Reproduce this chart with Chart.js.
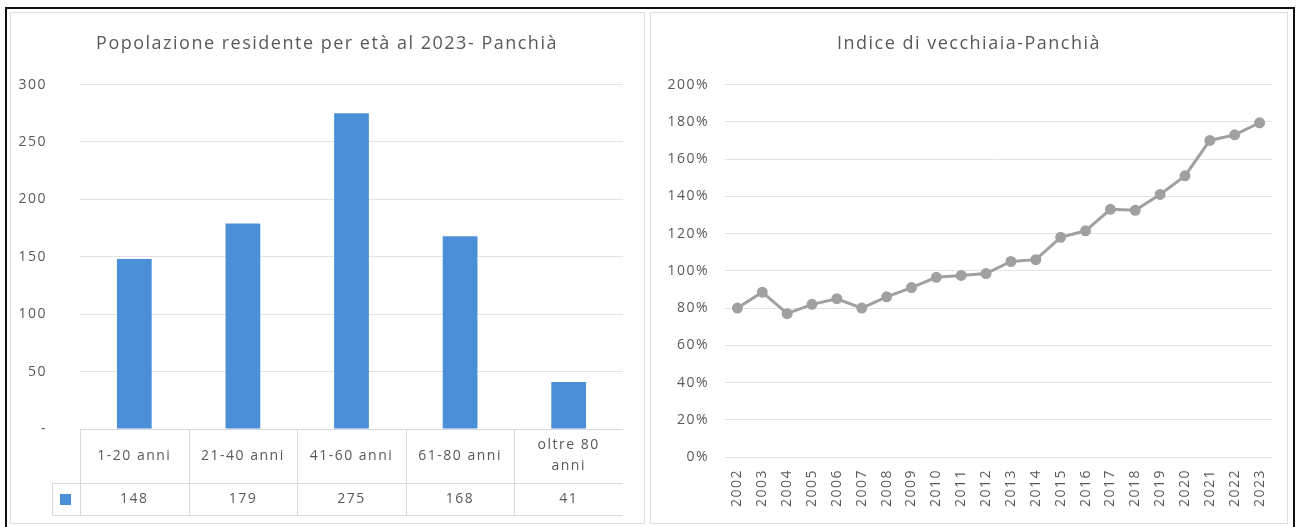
<!DOCTYPE html>
<html>
<head>
<meta charset="utf-8">
<script src="https://cdn.jsdelivr.net/npm/chart.js@4"></script>
<style>
  body { margin: 0; background: #fff; width: 1297px; height: 527px; overflow: hidden; position: relative; }
  .frame { position: absolute; left: 5px; top: 7px; width: 1286px; height: 530px; border: 2px solid #111; border-bottom: none; }
  .panel { position: absolute; top: 12px; height: 510px; border: 1px solid #dedede; background: #fff; }
  #leftPanel { left: 10px; width: 633px; }
  #rightPanel { left: 650px; width: 636px; }
</style>
</head>
<body>
<div class="frame"></div>
<div class="panel" id="leftPanel"><canvas id="ageChart" width="633" height="510"></canvas></div>
<div class="panel" id="rightPanel"><canvas id="oldChart" width="636" height="510"></canvas></div>
<script>
// dati: popolazione per fasce d'età
const ageLabels = ["1-20 anni", "21-40 anni", "41-60 anni", "61-80 anni", ["oltre 80", "anni"]];
const ageValues = [148, 179, 275, 168, 41];
const ageTicks = [0, 50, 100, 150, 200, 250, 300];

// indice di vecchiaia (%)
const years = ["2002", "2003", "2004", "2005", "2006", "2007", "2008", "2009", "2010", "2011", "2012",
  "2013", "2014", "2015", "2016", "2017", "2018", "2019", "2020", "2021", "2022", "2023"];
const oldIndex = [80, 88.5, 77, 82, 85, 80, 86, 91, 96.5, 97.5, 98.5,
  105, 106, 118, 121.5, 133, 132.5, 141, 151, 170, 173, 179.5];
const pctTicks = [0, 20, 40, 60, 80, 100, 120, 140, 160, 180, 200];

const textColor = "#595959";
const gridColor = "#e3e3e3";
const fontFamily = "'Open Sans', sans-serif";
const spacing = "1.5px";
Chart.defaults.font.family = fontFamily;
Chart.defaults.color = textColor;

// testo un po' spaziato come nell'originale
const spacingPlugin = {
  id: "spacing",
  beforeDraw(chart) { chart.ctx.letterSpacing = spacing; },
  afterDraw(chart) { chart.ctx.letterSpacing = "0px"; },
};

// tabella dati sotto il grafico a barre
const dataTablePlugin = {
  id: "dataTable",
  afterDraw(chart) {
    const ctx = chart.ctx;
    const x = chart.scales.x;
    const area = chart.chartArea;
    const step = x.width / ageValues.length;
    const rowTop = area.bottom;
    const rowMid = rowTop + 54;
    const rowBottom = rowMid + 32;
    const keyLeft = area.left - 28;

    ctx.save();
    ctx.letterSpacing = spacing;
    ctx.strokeStyle = "#d9d9d9";
    ctx.lineWidth = 1;
    ctx.beginPath();
    ctx.moveTo(area.left, rowTop + 0.5); ctx.lineTo(area.right, rowTop + 0.5);
    ctx.moveTo(keyLeft, rowMid + 0.5); ctx.lineTo(area.right, rowMid + 0.5);
    ctx.moveTo(keyLeft, rowBottom + 0.5); ctx.lineTo(area.right, rowBottom + 0.5);
    ctx.moveTo(keyLeft + 0.5, rowMid); ctx.lineTo(keyLeft + 0.5, rowBottom);
    for (let i = 0; i < ageValues.length; i++) {
      const bx = Math.round(area.left + i * step) + 0.5;
      ctx.moveTo(bx, rowTop); ctx.lineTo(bx, rowBottom);
    }
    ctx.stroke();

    ctx.font = "14px " + fontFamily;
    ctx.fillStyle = textColor;
    ctx.textAlign = "center";
    ctx.textBaseline = "middle";
    ageLabels.forEach((lab, i) => {
      const cx = x.getPixelForValue(i);
      const lines = Array.isArray(lab) ? lab : [lab];
      const headMid = (rowTop + rowMid) / 2;
      lines.forEach((ln, j) => {
        ctx.fillText(ln, cx, headMid + (j - (lines.length - 1) / 2) * 21);
      });
      ctx.fillText(String(ageValues[i]), cx, (rowMid + rowBottom) / 2);
    });

    // chiave legenda
    ctx.fillStyle = chart.data.datasets[0].backgroundColor;
    ctx.fillRect(keyLeft + 8, rowMid + 11, 11, 11);
    ctx.restore();
  }
};

// asse destro vuoto, serve solo a centrare il titolo
const spacerAxis = (w) => ({
  position: "right",
  display: true,
  grid: { display: false },
  border: { display: false },
  ticks: { display: false },
  afterFit: (s) => { s.width = w; },
});

new Chart(document.getElementById("ageChart"), {
  type: "bar",
  data: {
    labels: ageLabels,
    datasets: [{
      data: ageValues,
      backgroundColor: "#4a8fd8",
      barPercentage: 0.4,
      categoryPercentage: 0.8,
    }],
  },
  options: {
    responsive: false,
    animation: false,
    layout: { padding: { left: 0, right: 1, top: 0, bottom: 0 } },
    plugins: {
      legend: { display: false },
      tooltip: { enabled: false },
      title: {
        display: true,
        text: "Popolazione residente per età al 2023- Panchià",
        color: textColor,
        font: { size: 18, weight: "normal", lineHeight: 1.2 },
        padding: { top: 20, bottom: 30 },
      },
    },
    scales: {
      x: {
        grid: { display: false },
        border: { display: false },
        ticks: { display: false },
        afterFit: (s) => { s.height = 94; },
      },
      y: {
        min: 0,
        max: 300,
        afterBuildTicks: (s) => { s.ticks = ageTicks.map((v) => ({ value: v })); },
        grid: { color: gridColor, drawTicks: false },
        border: { display: false },
        ticks: {
          padding: 33,
          font: { size: 14 },
          callback: (v) => (v === 0 ? "-" : v),
        },
        afterFit: (s) => { s.width = 69; },
      },
      yPad: spacerAxis(20),
    },
  },
  plugins: [spacingPlugin, dataTablePlugin],
});

new Chart(document.getElementById("oldChart"), {
  type: "line",
  data: {
    labels: years,
    datasets: [{
      data: oldIndex,
      borderColor: "#a0a0a0",
      backgroundColor: "#a0a0a0",
      borderWidth: 3,
      pointRadius: 4,
      pointBackgroundColor: "#a0a0a0",
      pointBorderColor: "#a0a0a0",
      tension: 0,
    }],
  },
  options: {
    responsive: false,
    animation: false,
    layout: { padding: { left: 0, right: 0, top: 0, bottom: 0 } },
    plugins: {
      legend: { display: false },
      tooltip: { enabled: false },
      title: {
        display: true,
        text: "Indice di vecchiaia-Panchià",
        color: textColor,
        font: { size: 18, weight: "normal", lineHeight: 1.2 },
        padding: { top: 20, bottom: 30 },
      },
    },
    scales: {
      x: {
        offset: true,
        grid: { display: false },
        border: { display: false },
        ticks: {
          autoSkip: false,
          minRotation: 90,
          maxRotation: 90,
          padding: 4,
          font: { size: 14 },
        },
        afterFit: (s) => { s.height = 66; },
      },
      y: {
        min: 0,
        max: 200,
        afterBuildTicks: (s) => { s.ticks = pctTicks.map((v) => ({ value: v })); },
        grid: { color: gridColor, drawTicks: false },
        border: { display: false },
        ticks: {
          padding: 16,
          font: { size: 14 },
          callback: (v) => v + "%",
        },
        afterFit: (s) => { s.width = 74; },
      },
      yPad: spacerAxis(15),
    },
  },
  plugins: [spacingPlugin],
});
</script>
</body>
</html>
